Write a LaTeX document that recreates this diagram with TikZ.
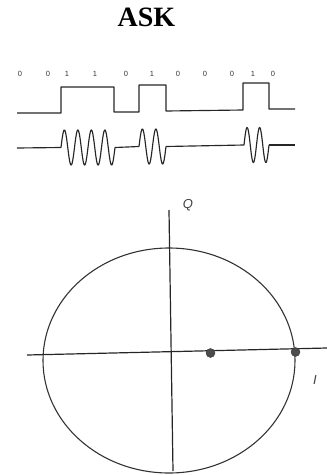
\documentclass[tikz,border=0pt]{standalone}
\usepackage{fontspec}
\setmainfont{Liberation Serif}
\newfontfamily\bitfont{Liberation Sans}
\begin{document}
\begin{tikzpicture}[x=1pt,y=-1pt,
  sig/.style={line width=1.15pt,color=black!85,line join=round},
  axisline/.style={line width=1.2pt,color=black!85},
  bit/.style={font=\bitfont\fontsize{7.5}{7.5}\selectfont,color=black!80,inner sep=0pt},
  dotpt/.style={circle,fill=black!70,draw=black!80,minimum size=9pt,inner sep=0pt},
  lbl/.style={font=\bitfont\itshape\fontsize{13}{13}\selectfont,color=black!75,inner sep=0pt}]
\useasboundingbox (0,0) rectangle (327,475);
\node[font=\bfseries\fontsize{28}{28}\selectfont] (title) at (146.5,17) {ASK};
% bits
\foreach \b/\x [count=\i] in {0/20,0/48,1/67,1/95,0/126,1/152,0/178,0/205,0/232,1/253,0/273}
  \node[bit] (b\i) at (\x,74) {\b};
% square wave
\draw[sig] (17,113) -- (61,113) -- (61,87) -- (114,87) -- (114,112) -- (139,112) -- (139,85)
  -- (166,85) -- (166,111) -- (243,110) -- (243,83) -- (269,83) -- (269,109) -- (295,109);
% ASK waveform
\draw[sig] (17,148) -- (61,147.5);
\draw[sig] plot[domain=61:115,samples=160,smooth] (\x,{147.5-17.5*sin((\x-61)/13.5*360)});
\draw[sig] (115,147.5) -- (139,146.5);
\draw[sig] plot[domain=139:166,samples=80,smooth] (\x,{146.5-17.5*sin((\x-139)/13.5*360)});
\draw[sig] (166,146.5) -- (244,145);
\draw[sig] plot[domain=244:269,samples=80,smooth] (\x,{145-17.5*sin((\x-244)/12.5*360)});
\draw[sig] (269,145) -- (295,145);
% constellation
\draw[line width=1.1pt,color=black!80] (169,360.5) ellipse [x radius=126, y radius=112.5];
\coordinate (qtop) at (169,210);
\coordinate (qbot) at (173,471);
\coordinate (ileft) at (27,355);
\coordinate (iright) at (327,348);
\draw[axisline] (qtop) -- (qbot);
\draw[axisline] (ileft) -- (iright);
\node[dotpt] (p1) at (210.5,353) {};
\node[dotpt] (p2) at (295.5,352) {};
\node[lbl] (Q) at (188,205) {Q};
\node[lbl] (I) at (315,380) {I};
\end{tikzpicture}
\end{document}
